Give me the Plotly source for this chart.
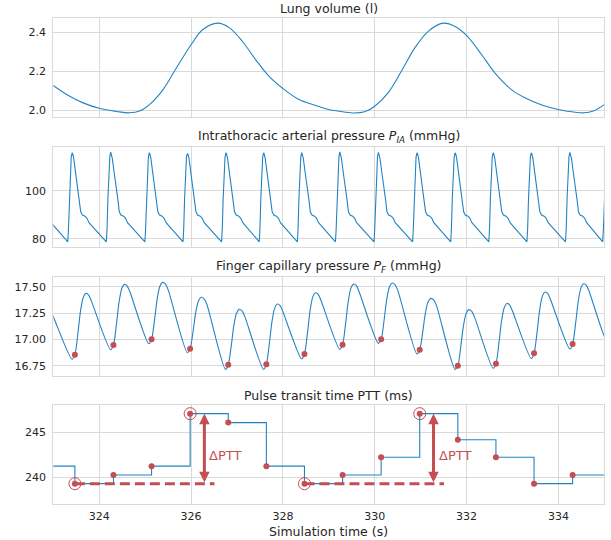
import plotly.graph_objects as go

# ---------------- data ----------------
# Lung volume (l)
lung_t = [323.0, 323.29, 323.65, 324.0, 324.38, 324.66, 324.88, 325.10, 325.39, 325.68,
          326.0, 326.25, 326.58, 326.83, 327.12, 327.41, 327.70, 328.0, 328.35, 328.71,
          329.0, 329.2, 329.56, 329.78, 330.0, 330.29, 330.58, 330.87, 331.16, 331.49,
          331.75, 332.0, 332.33, 332.62, 332.98, 333.27, 333.64, 334.0, 334.33, 334.55,
          334.76, 335.0]
lung_v = [2.126, 2.080, 2.037, 2.009, 1.993, 1.986, 1.995, 2.029, 2.105, 2.216,
          2.335, 2.412, 2.446, 2.423, 2.352, 2.258, 2.173, 2.111, 2.054, 2.024,
          2.003, 1.995, 1.985, 1.991, 2.020, 2.088, 2.199, 2.318, 2.403, 2.446,
          2.429, 2.383, 2.284, 2.190, 2.105, 2.063, 2.026, 2.003, 1.990, 1.986,
          1.995, 2.028]

# Intrathoracic arterial pressure: beat onsets (s) and peak values (mmHg)
pia_onsets = [322.49, 323.315, 324.155, 324.995, 325.825, 326.665, 327.485, 328.315,
              329.145, 329.985, 330.825, 331.655, 332.485, 333.315, 334.155, 334.965]
pia_peaks = [115.8, 115.8, 116.1, 115.8, 115.4, 115.8, 115.8, 115.9, 116.2, 116.0,
             115.8, 115.8, 115.8, 115.8, 116.0, 115.8]
# one beat: time after onset (s), pressure (mmHg); None = beat peak
pia_beat_dt = [0.0, 0.015, 0.035, 0.055, 0.075, 0.095, 0.11, 0.13, 0.173, 0.217,
               0.253, 0.282, 0.318, 0.375, 0.419, 0.462]
pia_beat_v = [78.75, 84.0, 97.0, 108.0, 114.0, None, 115.2, 113.5, 107.2, 101.7,
              96.1, 91.25, 89.9, 89.4, 88.5, 86.7]

# Beat detection times (s) shared by finger pressure and PTT
beat_t = [322.64, 323.47, 324.31, 325.14, 325.98, 326.81, 327.64, 328.47, 329.30,
          330.14, 330.98, 331.81, 332.64, 333.47, 334.31, 335.14]
# Finger capillary pressure (mmHg): minimum, detected point, peak per beat
pf_min = [16.73, 16.813, 16.904, 16.96, 16.876, 16.718, 16.718, 16.816, 16.907,
          16.964, 16.863, 16.718, 16.728, 16.82, 16.91, 16.96]
pf_dot = [16.77, 16.857, 16.948, 17.002, 16.914, 16.762, 16.766, 16.863, 16.952,
          17.002, 16.904, 16.753, 16.772, 16.870, 16.958, 17.0]
pf_peak = [17.28, 17.437, 17.522, 17.541, 17.40, 17.286, 17.336, 17.443, 17.525,
           17.535, 17.39, 17.283, 17.342, 17.45, 17.528, 17.54]
# upstroke shape relative to detected point: dt (s), fraction of (peak - min)
pf_shape_dt = [0.07, 0.12, 0.18, 0.24, 0.30, 0.36]
pf_shape_f = [0.42, 0.72, 0.934, 1.0, 0.975, 0.883]
pf_min_dt = -0.06

# Pulse transit time (ms)
ptt_v = [241.25, 239.3, 240.26, 241.25, 247.1, 246.1, 241.25, 239.3, 240.26,
         242.24, 247.1, 244.19, 242.24, 239.3, 240.26, 241.25]
circle_t = [323.47, 325.98, 328.47, 330.98]
circle_v = [239.3, 247.1, 239.3, 247.1]
base_start = [323.47, 328.47]
base_end = [326.51, 331.51]
base_v = [239.3, 239.3]
arrow_t = [326.29, 331.28]
arrow_lo = [239.3, 239.3]
arrow_hi = [247.1, 247.1]
label_t = [326.75, 331.74]
label_v = [242.4, 242.4]

x_range = [323, 335]

# ---------------- styles ----------------
BLUE = "#2383c2"
RED = "#c44e52"
GRID = "#d9d9d9"
TXT = "#262626"
FONT = "DejaVu Sans"

# build PIA waveform
pia_x, pia_y = [], []
for t0, pk in zip(pia_onsets, pia_peaks):
    for dt, v in zip(pia_beat_dt, pia_beat_v):
        pia_x.append(t0 + dt)
        pia_y.append(pk if v is None else v)

# build finger waveform
pf_x, pf_y = [], []
for t0, mn, dv, pk in zip(beat_t, pf_min, pf_dot, pf_peak):
    pf_x.append(t0 + pf_min_dt); pf_y.append(mn)
    pf_x.append(t0); pf_y.append(dv)
    for dt, f in zip(pf_shape_dt, pf_shape_f):
        pf_x.append(t0 + dt); pf_y.append(mn + f * (pk - mn))

fig = go.Figure()
fig.add_trace(go.Scatter(x=lung_t, y=lung_v, mode="lines", line=dict(color=BLUE, width=1.1, shape="spline"),
                         xaxis="x", yaxis="y"))
fig.add_trace(go.Scatter(x=pia_x, y=pia_y, mode="lines", line=dict(color=BLUE, width=1.1),
                         xaxis="x2", yaxis="y2"))
fig.add_trace(go.Scatter(x=pf_x, y=pf_y, mode="lines", line=dict(color=BLUE, width=1.1, shape="spline", smoothing=0.8),
                         xaxis="x3", yaxis="y3"))
fig.add_trace(go.Scatter(x=beat_t, y=pf_dot, mode="markers", marker=dict(color=RED, size=6),
                         xaxis="x3", yaxis="y3"))
fig.add_trace(go.Scatter(x=beat_t, y=ptt_v, mode="lines", line=dict(color=BLUE, width=1.1, shape="hv"),
                         xaxis="x4", yaxis="y4"))
for s, e, v in zip(base_start, base_end, base_v):
    fig.add_trace(go.Scatter(x=[s, e], y=[v, v], mode="lines",
                             line=dict(color=RED, width=3, dash="10px,5px"),
                             xaxis="x4", yaxis="y4"))
fig.add_trace(go.Scatter(x=beat_t, y=ptt_v, mode="markers", marker=dict(color=RED, size=6),
                         xaxis="x4", yaxis="y4"))
fig.add_trace(go.Scatter(x=circle_t, y=circle_v, mode="markers",
                         marker=dict(symbol="circle-open", color=RED, size=12, line=dict(width=1)),
                         xaxis="x4", yaxis="y4"))

# panel geometry (pixels in the 611x540 figure)
W, H = 611, 540
left, right = 53.3, 604.3
panels = [(18.3, 117.3), (147.3, 246.7), (276.7, 375.7), (405.3, 504.3)]
xdom = [left / W, right / W]

titles = ["Lung volume (l)",
          "Intrathoracic arterial pressure <i>P</i><sub><i>IA</i></sub> (mmHg)",
          "Finger capillary pressure <i>P</i><sub><i>F</i></sub> (mmHg)",
          "Pulse transit time PTT (ms)"]
yranges = [[1.963, 2.471], [76.7, 118.1], [16.658, 17.595], [237.0, 248.03]]
ydticks = [0.2, 20, 0.25, 5]
yformats = [".1f", "d", ".2f", "d"]

layout = dict(
    width=W, height=H, showlegend=False,
    margin=dict(l=0, r=0, t=0, b=0),
    paper_bgcolor="white", plot_bgcolor="white",
    font=dict(family=FONT, color=TXT, size=11),
)
annotations = []
for i, (top, bot) in enumerate(panels):
    n = "" if i == 0 else str(i + 1)
    ydom = [1 - bot / H, 1 - top / H]
    layout["xaxis" + n] = dict(
        domain=xdom, range=x_range, anchor="y" + n, tick0=0, dtick=2,
        showgrid=True, gridcolor=GRID, gridwidth=1, zeroline=False,
        showline=True, mirror=True, linecolor=GRID, linewidth=1.2,
        ticks="outside", ticklen=1, tickcolor="rgba(0,0,0,0)",
        showticklabels=(i == 3), tickfont=dict(size=11, color=TXT, family=FONT),
    )
    layout["yaxis" + n] = dict(
        domain=ydom, range=yranges[i], anchor="x" + n, tick0=0, dtick=ydticks[i],
        tickformat=yformats[i],
        showgrid=True, gridcolor=GRID, gridwidth=1, zeroline=False,
        showline=True, mirror=True, linecolor=GRID, linewidth=1.2,
        ticks="outside", ticklen=4, tickcolor="rgba(0,0,0,0)",
        tickfont=dict(size=11, color=TXT, family=FONT),
    )
    annotations.append(dict(
        text=titles[i], xref="paper", yref="paper", x=(xdom[0] + xdom[1]) / 2,
        y=ydom[1], xanchor="center", yanchor="bottom", yshift=0, showarrow=False,
        font=dict(size=12.5, color=TXT, family=FONT)))

annotations.append(dict(
    text="Simulation time (s)", xref="paper", yref="paper", x=(xdom[0] + xdom[1]) / 2,
    y=1 - 531.5 / H, xanchor="center", yanchor="middle", showarrow=False,
    font=dict(size=12.5, color=TXT, family=FONT)))

for xa, lo, hi in zip(arrow_t, arrow_lo, arrow_hi):
    annotations.append(dict(
        x=xa, y=hi, ax=xa, ay=lo, xref="x4", yref="y4", axref="x4", ayref="y4",
        text="", showarrow=True, arrowhead=2, arrowside="end+start", arrowsize=0.7,
        arrowwidth=3, arrowcolor=RED, standoff=0, startstandoff=0))
for lx, ly in zip(label_t, label_v):
    annotations.append(dict(
        x=lx, y=ly, xref="x4", yref="y4", text="ΔPTT", showarrow=False,
        xanchor="center", yanchor="middle", font=dict(size=13, color=RED, family=FONT)))

layout["annotations"] = annotations
fig.update_layout(**layout)
fig.write_html("out.html", config={"displayModeBar": False},
               post_script="document.body.style.margin='0px';document.body.style.overflow='hidden';")
